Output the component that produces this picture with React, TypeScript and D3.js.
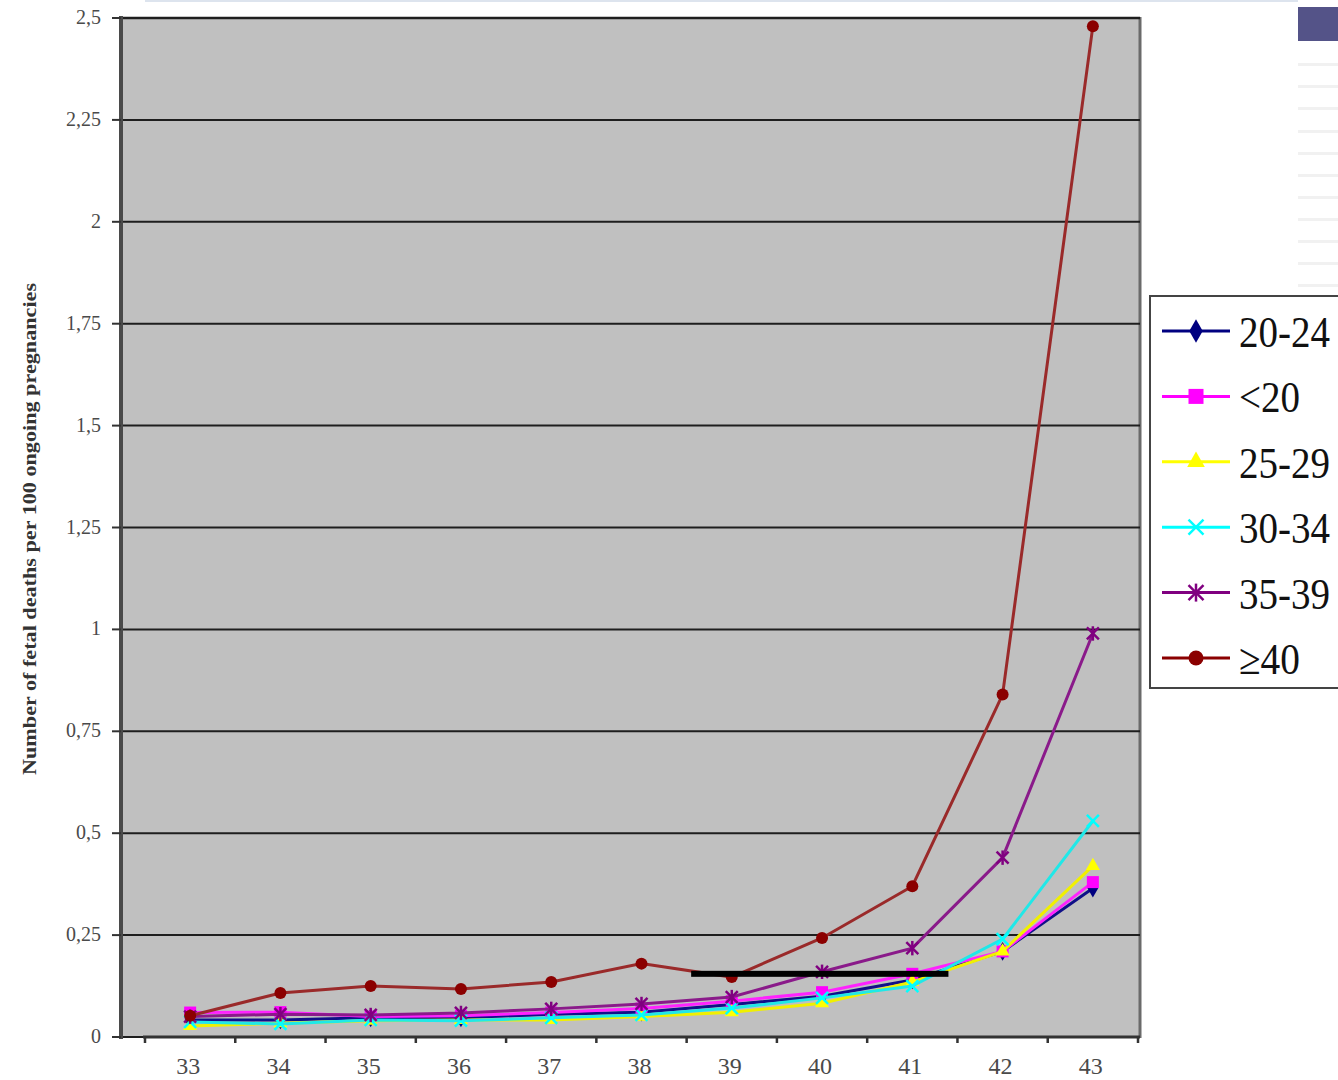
import React from "react";
import * as d3 from "d3";

const categories = ["33", "34", "35", "36", "37", "38", "39", "40", "41", "42", "43"];
const yTicks = [0, 0.25, 0.5, 0.75, 1, 1.25, 1.5, 1.75, 2, 2.25, 2.5];
const yTickLabels = ["0", "0,25", "0,5", "0,75", "1", "1,25", "1,5", "1,75", "2", "2,25", "2,5"];

const s2024 = [0.042, 0.042, 0.047, 0.047, 0.056, 0.061, 0.08, 0.1, 0.14, 0.21, 0.365];
const sUnder20 = [0.06, 0.061, 0.05, 0.052, 0.06, 0.07, 0.088, 0.11, 0.155, 0.21, 0.38];
const s2529 = [0.027, 0.034, 0.04, 0.042, 0.042, 0.05, 0.061, 0.083, 0.135, 0.21, 0.42];
const s3034 = [0.037, 0.032, 0.042, 0.04, 0.047, 0.054, 0.071, 0.096, 0.125, 0.24, 0.53];
const s3539 = [0.05, 0.056, 0.054, 0.059, 0.069, 0.081, 0.098, 0.16, 0.218, 0.44, 0.99];
const s40 = [0.052, 0.108, 0.125, 0.118, 0.135, 0.18, 0.147, 0.243, 0.37, 0.84, 2.48];

const seriesNames = ["20-24", "<20", "25-29", "30-34", "35-39", "≥40"];
const seriesValues = [s2024, sUnder20, s2529, s3034, s3539, s40];
const seriesColors = ["#000080", "#ff00ff", "#ffff00", "#00ffff", "#800080", "#8b0000"];
const lineColors = ["#101088", "#ff22ff", "#f0f000", "#20e8e8", "#8a1a8a", "#9a2a2a"];
const markerTypes = ["diamond", "square", "triangle", "x", "asterisk", "circle"];

// annotation bar (black) in data units
const annotStart = 38.55;
const annotEnd = 41.4;
const annotValue = 0.155;

const W = 1338;
const H = 1080;
const x = d3.scaleBand<string>().domain(categories).range([145, 1138]).padding(0);
const y = d3.scaleLinear().domain([0, 2.5]).range([1037, 18]);
const cx = (c: string) => (x(c) as number) + x.bandwidth() / 2;
const catX = (v: number) => 145 + (v - 33 + 0.5) * x.bandwidth();

function Marker({ type, px, py, color, s }: { type: string; px: number; py: number; color: string; s: number }) {
  if (type === "diamond") {
    const p = d3.symbol().type(d3.symbolDiamond).size(s * s * 0.7)();
    return <path d={p as string} transform={`translate(${px},${py})`} fill={color} />;
  }
  if (type === "square") {
    return <rect x={px - s / 2} y={py - s / 2} width={s} height={s} fill={color} />;
  }
  if (type === "triangle") {
    const p = d3.symbol().type(d3.symbolTriangle).size(s * s * 0.6)();
    return <path d={p as string} transform={`translate(${px},${py})`} fill={color} />;
  }
  if (type === "circle") {
    return <circle cx={px} cy={py} r={s / 2} fill={color} />;
  }
  const h = s / 2;
  if (type === "x") {
    return (
      <g stroke={color} strokeWidth={2.5}>
        <line x1={px - h} y1={py - h} x2={px + h} y2={py + h} />
        <line x1={px - h} y1={py + h} x2={px + h} y2={py - h} />
      </g>
    );
  }
  return (
    <g stroke={color} strokeWidth={2.5}>
      <line x1={px - h} y1={py - h} x2={px + h} y2={py + h} />
      <line x1={px - h} y1={py + h} x2={px + h} y2={py - h} />
      <line x1={px} y1={py - h * 1.2} x2={px} y2={py + h * 1.2} />
    </g>
  );
}

export default function App() {
  const line = d3
    .line<number>()
    .x((_, i) => cx(categories[i]))
    .y((d) => y(d));

  const legendX = 1150;
  const legendY = 296;
  const legendRow = 65.4;

  return (
    <svg width={W} height={H} style={{ position: "absolute", left: 0, top: 0, background: "#fff" }}>
      {/* slide artifacts */}
      <rect x={145} y={0} width={1153} height={2} fill="#dde4ee" />
      <rect x={1298} y={7} width={40} height={34} fill="#545388" />
      {[63, 85, 107, 130, 152, 174, 196, 218, 240, 262, 284].map((yy) => (
        <rect key={yy} x={1298} y={yy} width={40} height={3} fill="#f1f1f1" />
      ))}

      {/* plot background */}
      <rect x={123} y={18} width={1017} height={1019} fill="#c0c0c0" />
      <line x1={1140} y1={17} x2={1140} y2={1038} stroke="#6a6a6a" strokeWidth={3} />

      {/* gridlines */}
      {yTicks.map((t) => (
        <line key={t} x1={123} x2={1140} y1={y(t)} y2={y(t)} stroke="#1e1e1e" strokeWidth={t === 2.5 ? 2.5 : 2} />
      ))}

      {/* y axis */}
      <line x1={121} x2={121} y1={16} y2={1039} stroke="#4a4a4a" strokeWidth={4} />
      {yTicks.map((t, i) => (
        <g key={t}>
          <line x1={112} x2={121} y1={y(t)} y2={y(t)} stroke="#333" strokeWidth={2} />
          <text
            x={101}
            y={y(t) + 6}
            textAnchor="end"
            fontFamily="Liberation Serif, Times New Roman, serif"
            fontSize={20}
            fill="#4a4a4a"
          >
            {yTickLabels[i]}
          </text>
        </g>
      ))}

      {/* x axis */}
      <line x1={143} x2={1140} y1={1037} y2={1037} stroke="#333" strokeWidth={3} />
      {d3.range(categories.length + 1).map((i) => (
        <line key={i} x1={145 + i * x.bandwidth()} x2={145 + i * x.bandwidth()} y1={1037} y2={1043} stroke="#333" strokeWidth={2.5} />
      ))}
      {categories.map((c) => (
        <text
          key={c}
          x={cx(c) - 2}
          y={1074}
          textAnchor="middle"
          fontFamily="Liberation Serif, Times New Roman, serif"
          fontSize={24}
          fill="#4a4a4a"
        >
          {c}
        </text>
      ))}

      {/* y title */}
      <text
        transform={`translate(36,529) rotate(-90)`}
        textAnchor="middle"
        fontFamily="Liberation Serif, Times New Roman, serif"
        fontWeight="bold"
        fontSize={19}
        fill="#333"
        textLength={492}
        lengthAdjust="spacingAndGlyphs"
      >
        Number of fetal deaths per 100 ongoing pregnancies
      </text>

      {/* series */}
      {seriesValues.map((vals, si) => (
        <g key={si}>
          <path d={line(vals) as string} fill="none" stroke={lineColors[si]} strokeWidth={3} />
          {vals.map((v, i) => (
            <Marker key={i} type={markerTypes[si]} px={cx(categories[i])} py={y(v)} color={seriesColors[si]} s={12} />
          ))}
        </g>
      ))}

      {/* annotation bar */}
      <rect x={catX(annotStart)} y={y(annotValue) - 3} width={catX(annotEnd) - catX(annotStart)} height={6} fill="#000" />

      {/* legend */}
      <rect x={legendX} y={legendY} width={W - legendX + 4} height={392} fill="#fff" stroke="#444" strokeWidth={2} />
      {seriesNames.map((n, i) => {
        const ly = legendY + 35 + i * legendRow;
        return (
          <g key={n}>
            <line x1={1162} x2={1230} y1={ly} y2={ly} stroke={seriesColors[i]} strokeWidth={3} />
            <Marker type={markerTypes[i]} px={1196} py={ly} color={seriesColors[i]} s={15} />
            <text
              x={1239}
              y={ly + 16}
              fontFamily="Liberation Serif, Times New Roman, serif"
              fontSize={44}
              fill="#111"
              textLength={n.length === 3 ? 61 : 91}
              lengthAdjust="spacingAndGlyphs"
            >
              {n}
            </text>
          </g>
        );
      })}
    </svg>
  );
}
